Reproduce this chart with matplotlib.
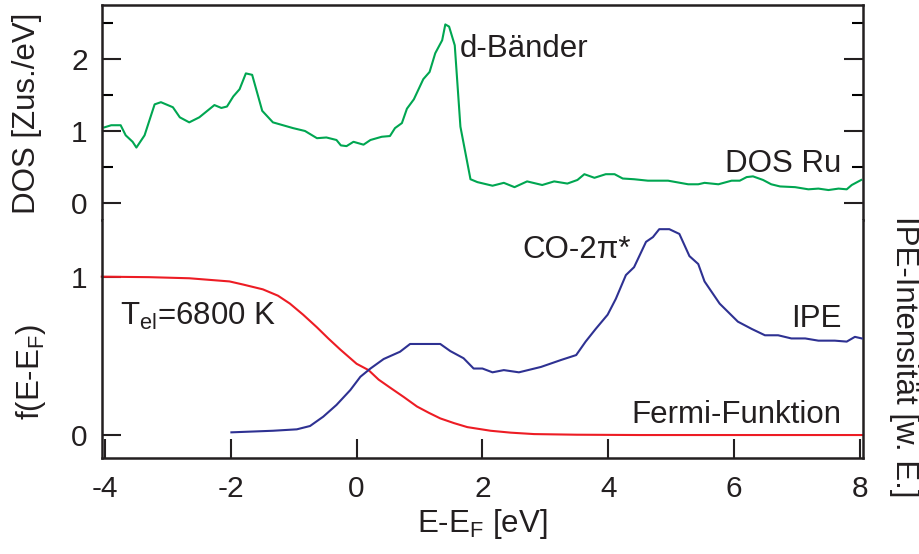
import matplotlib
matplotlib.use("Agg")
import matplotlib.pyplot as plt
from matplotlib.ticker import MultipleLocator

plt.rcParams["font.family"] = ["Liberation Sans", "DejaVu Sans"]
plt.rcParams["mathtext.fontset"] = "custom"
plt.rcParams["mathtext.rm"] = "Liberation Sans"
plt.rcParams["mathtext.it"] = "Liberation Sans:italic"
plt.rcParams["axes.unicode_minus"] = False

# =========================
# Data
# =========================
# DOS Ru (top panel)
dos_e = [-4.01, -3.90, -3.75, -3.67, -3.56, -3.50, -3.37, -3.21, -3.11, -2.92,
         -2.81, -2.66, -2.50, -2.26, -2.15, -2.06, -1.96, -1.86, -1.76, -1.66,
         -1.50, -1.33, -1.17, -1.01, -0.82, -0.63, -0.48, -0.32, -0.25, -0.16,
         -0.05, 0.11, 0.22, 0.40, 0.53, 0.61, 0.72, 0.80, 0.91, 1.06,
         1.16, 1.25, 1.36, 1.41, 1.47, 1.56, 1.65, 1.81, 1.92, 2.16,
         2.34, 2.51, 2.71, 2.95, 3.14, 3.35, 3.51, 3.62, 3.78, 3.96,
         4.10, 4.23, 4.41, 4.63, 4.95, 5.27, 5.43, 5.53, 5.75, 5.96,
         6.09, 6.20, 6.30, 6.46, 6.59, 6.73, 6.97, 7.18, 7.34, 7.50,
         7.66, 7.79, 7.87, 8.02]
dos_val = [1.05, 1.08, 1.08, 0.94, 0.85, 0.77, 0.94, 1.37, 1.40, 1.33,
           1.19, 1.12, 1.19, 1.36, 1.32, 1.34, 1.48, 1.58, 1.80, 1.78,
           1.28, 1.12, 1.08, 1.04, 1.00, 0.90, 0.91, 0.875, 0.80, 0.79,
           0.85, 0.81, 0.875, 0.92, 0.93, 1.04, 1.11, 1.31, 1.44, 1.72,
           1.82, 2.08, 2.26, 2.48, 2.45, 2.19, 1.06, 0.33, 0.29, 0.24,
           0.28, 0.22, 0.30, 0.25, 0.30, 0.27, 0.32, 0.40, 0.35, 0.40,
           0.40, 0.34, 0.33, 0.31, 0.31, 0.26, 0.26, 0.28, 0.26, 0.31,
           0.31, 0.36, 0.37, 0.32, 0.26, 0.23, 0.22, 0.19, 0.20, 0.18,
           0.20, 0.19, 0.25, 0.32]

# Fermi function (bottom panel)
fermi_e = [-4.05, -3.3, -2.66, -2.02, -1.8, -1.49, -1.25, -1.06, -0.85, -0.63,
           -0.45, -0.26, 0.0, 0.19, 0.35, 0.53, 0.75, 0.96, 1.15, 1.33,
           1.55, 1.76, 2.13, 2.45, 2.82, 3.5, 4.5, 8.05]
fermi_val = [1.0, 0.997, 0.99, 0.97, 0.95, 0.92, 0.88, 0.83, 0.76, 0.68,
             0.61, 0.54, 0.45, 0.41, 0.35, 0.30, 0.24, 0.18, 0.14, 0.105,
             0.075, 0.05, 0.027, 0.015, 0.006, 0.002, 0.0, 0.0]

# IPE spectrum (arb. units)
ipe_e = [-1.99, -1.33, -0.95, -0.74, -0.53, -0.32, -0.10, 0.06, 0.22, 0.43,
         0.69, 0.85, 1.07, 1.33, 1.49, 1.70, 1.86, 2.0, 2.16, 2.34,
         2.58, 2.93, 3.25, 3.49, 3.64, 3.80, 3.99, 4.12, 4.28, 4.41,
         4.60, 4.71, 4.81, 4.97, 5.13, 5.29, 5.43, 5.53, 5.77, 6.06,
         6.28, 6.49, 6.70, 6.91, 7.13, 7.34, 7.60, 7.79, 7.92, 8.03]
ipe_val = [0.017, 0.027, 0.036, 0.057, 0.116, 0.19, 0.284, 0.368, 0.42, 0.48,
           0.526, 0.575, 0.575, 0.575, 0.53, 0.485, 0.42, 0.42, 0.396, 0.41,
           0.396, 0.43, 0.474, 0.505, 0.59, 0.67, 0.76, 0.86, 1.01, 1.06,
           1.22, 1.25, 1.30, 1.30, 1.27, 1.13, 1.08, 0.97, 0.83, 0.716,
           0.67, 0.63, 0.63, 0.61, 0.61, 0.596, 0.596, 0.59, 0.62, 0.61]

x_ticks = [-4, -2, 0, 2, 4, 6, 8]

# =========================
# Style
# =========================
green = "#00a651"
red = "#ed1c24"
blue = "#2e3192"
black = "#231f20"
fs_label = 22.5
fs_tick = 21.5
lw_frame = 1.8

fig = plt.figure(figsize=(9.2, 5.54), dpi=100)
ax_top = fig.add_axes([0.1105, 0.6029, 0.8275, 0.3881])
ax_bot = fig.add_axes([0.1105, 0.1733, 0.8275, 0.4296], sharex=ax_top)
ax_ipe = ax_bot.twinx()

xlim = (-4.052, 8.048)

# ---- top panel: DOS
ax_top.plot(dos_e, dos_val, color=green, lw=1.5)
ax_top.set_xlim(*xlim)
ax_top.set_ylim(-0.236, 2.75)
ax_top.yaxis.set_major_locator(MultipleLocator(1))
ax_top.yaxis.set_minor_locator(MultipleLocator(0.5))
ax_top.tick_params(axis="y", which="major", direction="in", length=13.5,
                   width=1.5, left=True, right=True, labelsize=fs_tick,
                   pad=10, colors=black)
ax_top.tick_params(axis="y", which="minor", direction="in", length=8,
                   width=1.5, left=True, right=True)
ax_top.tick_params(axis="x", which="both", bottom=False, top=False,
                   labelbottom=False)
ax_top.spines["bottom"].set_visible(False)
ax_top.set_ylabel("DOS [Zus./eV]", fontsize=fs_label, color=black)
ax_top.yaxis.set_label_coords(-0.078, 0.498)
ax_top.text(1.644, 2.03, "d-Bänder", fontsize=fs_label, va="baseline",
            ha="left", color=black)
ax_top.text(7.71, 0.43, "DOS Ru", fontsize=fs_label, va="baseline",
            ha="right", color=black)

# ---- bottom panel: Fermi function + IPE
ax_bot.plot(fermi_e, fermi_val, color=red, lw=1.5, clip_on=False)
ax_bot.set_xlim(*xlim)
ax_bot.set_ylim(-0.145, 1.358)
ax_bot.set_yticks([0, 1])
ax_bot.set_xticks(x_ticks)
ax_bot.tick_params(axis="y", direction="in", length=13.5, width=1.5,
                   left=True, right=False, labelsize=fs_tick, pad=10,
                   colors=black)
ax_bot.tick_params(axis="x", direction="in", length=14, width=1.5,
                   bottom=True, top=False, labelsize=fs_tick, pad=12,
                   colors=black)
ax_bot.spines["top"].set_visible(False)
ax_bot.set_xlabel(r"E-E$_{\rm F}$ [eV]", fontsize=fs_label, color=black)
ax_bot.xaxis.set_label_coords(0.5, -0.205)
ax_bot.set_ylabel(r"f(E-E$_{\rm F}$)", fontsize=fs_label, color=black)
ax_bot.yaxis.set_label_coords(-0.071, 0.361)
ax_bot.text(-3.76, 0.695, r"T$_{\rm el}$=6800 K", fontsize=fs_label,
            va="baseline", ha="left", color=black)
ax_bot.text(7.71, 0.076, "Fermi-Funktion", fontsize=fs_label,
            va="baseline", ha="right", color=black)

ax_ipe.plot(ipe_e, ipe_val, color=blue, lw=1.5, clip_on=False)
ax_ipe.set_ylim(-0.145, 1.358)
ax_ipe.set_yticks([])
for s in ax_ipe.spines.values():
    s.set_visible(False)
ax_ipe.set_ylabel("IPE-Intensität [w. E.]", fontsize=fs_label, color=black,
                  rotation=-90, va="center")
ax_ipe.yaxis.set_label_coords(1.054, 0.424)
ax_ipe.text(2.64, 1.118, "CO-2π*", fontsize=fs_label, va="baseline",
            ha="left", color=black)
ax_ipe.text(7.71, 0.682, "IPE", fontsize=fs_label, va="baseline",
            ha="right", color=black)

for ax in (ax_top, ax_bot):
    for s in ax.spines.values():
        s.set_linewidth(lw_frame)
        s.set_color(black)

fig.savefig("out.png", dpi=100)
